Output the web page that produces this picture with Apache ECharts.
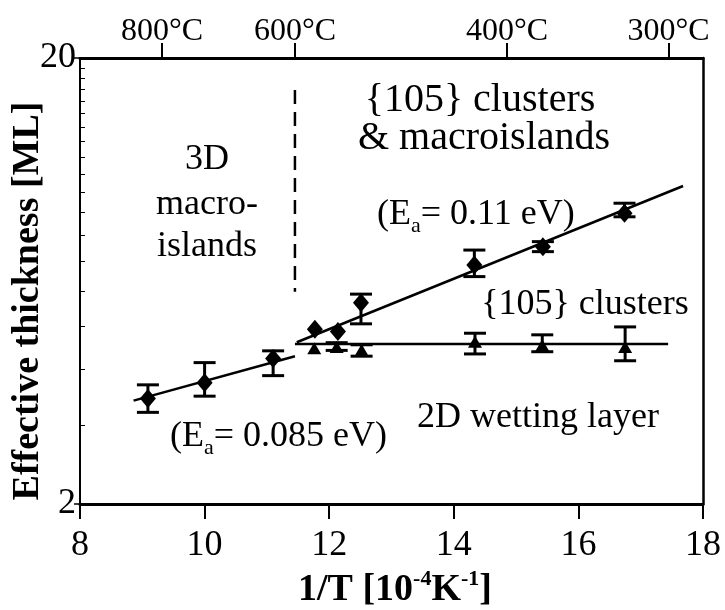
<!DOCTYPE html>
<html>
<head>
<meta charset="utf-8">
<script src="https://cdn.jsdelivr.net/npm/echarts@6/dist/echarts.min.js"></script>
<style>
  html, body { margin: 0; background: #fff; }
  #chart { width: 725px; height: 610px; }
</style>
</head>
<body>
<div id="chart"></div>
<script>
// diamonds: {105} clusters & macroislands
const diamondX = [9.09, 10.0, 11.10, 11.77, 12.14, 12.51, 14.33, 15.43, 16.74];
const diamondY = [3.45, 3.74, 4.24, 4.93, 4.87, 5.65, 6.87, 7.55, 8.97];
const diamondLo = [3.21, 3.49, 3.88, null, null, 5.07, 6.47, 7.36, 8.81];
const diamondHi = [3.70, 4.15, 4.41, null, null, 5.91, 7.42, 7.75, 9.45];

// triangles: 2D wetting layer
const triX = [11.76, 12.12, 12.52, 14.34, 15.42, 16.75];
const triY = [4.47, 4.50, 4.43, 4.62, 4.54, 4.50];
const triLo = [null, 4.42, 4.29, 4.34, 4.39, 4.19];
const triHi = [null, 4.60, 4.55, 4.83, 4.79, 4.99];

// fitted lines
const lowFitX = [8.86, 11.45];
const lowFitY = [3.41, 4.29];
const highFitX = [11.48, 17.68];
const highFitY = [4.61, 10.33];
const wetX = [11.45, 17.44];
const wetY = [4.57, 4.57];
const dashX = [11.45, 11.45];
const dashY = [16.95, 5.98];

// ticks
const xTicks = [8, 10, 12, 14, 16, 18];
const yTicks = [2, 20];
const yMinor = [3, 4, 5, 6, 7, 8, 9, 10, 11, 12, 13, 14, 15, 16, 17, 18, 19];
const tempLabels = [800, 600, 400, 300];
const tempPos = tempLabels.map(t => 1e4 / (t + 273.15));

const FONT = 'Liberation Serif';

let zip = (xs, ys) => xs.map((x, i) => [x, ys[i]]);
let bars = (xs, lo, hi) => xs.map((x, i) => [x, lo[i], hi[i]]).filter(d => d[1] != null);

let errorBar = (capW) => (params, api) => {
    let top = api.coord([api.value(0), api.value(2)]);
    let bot = api.coord([api.value(0), api.value(1)]);
    let st = { stroke: '#000', lineWidth: 3 };
    return {
        type: 'group',
        children: [
            { type: 'line', shape: { x1: top[0], y1: top[1], x2: bot[0], y2: bot[1] }, style: st },
            { type: 'line', shape: { x1: top[0] - capW / 2, y1: top[1], x2: top[0] + capW / 2, y2: top[1] }, style: st },
            { type: 'line', shape: { x1: bot[0] - capW / 2, y1: bot[1], x2: bot[0] + capW / 2, y2: bot[1] }, style: st }
        ]
    };
};

let lineSeries = (xs, ys, dashed) => ({
    type: 'line',
    data: zip(xs, ys),
    showSymbol: false,
    symbol: 'none',
    lineStyle: { color: '#000', width: 2.5, type: dashed ? [14, 8] : 'solid' },
    z: 3
});

let logY = extra => Object.assign({
    type: 'log', logBase: 10, min: 2, max: 20,
    splitLine: { show: false }
}, extra);

let txt = (x, y, text, size) => ({
    type: 'text', x: x, y: y,
    style: { text: text, font: size + 'px "Liberation Serif"', fill: '#000', align: 'center', verticalAlign: 'middle' }
});

let ea = (x, y, text) => ({
    type: 'text', x: x, y: y,
    style: {
        text: text, fontSize: 36, fontFamily: FONT, fill: '#000', lineHeight: 44,
        verticalAlign: 'middle',
        rich: { s: { fontSize: 22, fontFamily: FONT, lineHeight: 22, verticalAlign: 'bottom' } }
    }
});

let option = {
    animation: false,
    backgroundColor: '#fff',
    grid: { left: 80, right: 22, top: 58, bottom: 106 },
    xAxis: [
        {
            type: 'value', position: 'bottom', min: 8, max: 18,
            axisLine: { show: true, lineStyle: { color: '#000', width: 3 } },
            axisTick: { show: true, inside: false, length: 15, customValues: xTicks, lineStyle: { color: '#000', width: 2 } },
            axisLabel: { customValues: xTicks, margin: 24, color: '#000', fontSize: 36, fontFamily: FONT },
            splitLine: { show: false }
        },
        {
            type: 'value', position: 'top', min: 8, max: 18,
            axisLine: { show: true, lineStyle: { color: '#000', width: 3 } },
            axisTick: { show: true, inside: false, length: 15, customValues: tempPos, lineStyle: { color: '#000', width: 2 } },
            axisLabel: {
                customValues: tempPos, margin: 10, color: '#000', fontSize: 32, fontFamily: FONT,
                formatter: v => {
                    let best = 0;
                    tempPos.forEach((p, i) => { if (Math.abs(p - v) < Math.abs(tempPos[best] - v)) best = i; });
                    return tempLabels[best] + '°C';
                }
            },
            splitLine: { show: false }
        }
    ],
    yAxis: [
        logY({
            position: 'left',
            axisLine: { show: true, lineStyle: { color: '#000', width: 2 } },
            axisTick: { show: true, inside: false, length: 6, customValues: yTicks, lineStyle: { color: '#000', width: 1.5 } },
            axisLabel: { customValues: yTicks, margin: 4, color: '#000', fontSize: 36, fontFamily: FONT, formatter: v => String(Math.round(v)) }
        }),
        logY({
            position: 'left',
            axisLine: { show: false },
            axisTick: { show: true, inside: true, length: 5, customValues: yMinor, lineStyle: { color: '#000', width: 1 } },
            axisLabel: { show: false }
        }),
        logY({
            position: 'right',
            axisLine: { show: true, lineStyle: { color: '#000', width: 2.5 } },
            axisTick: { show: false },
            axisLabel: { show: false }
        })
    ],
    series: [
        lineSeries(lowFitX, lowFitY),
        lineSeries(highFitX, highFitY),
        lineSeries(wetX, wetY),
        lineSeries(dashX, dashY, true),
        {
            type: 'custom',
            renderItem: errorBar(22),
            data: bars(diamondX, diamondLo, diamondHi),
            z: 4
        },
        {
            type: 'custom',
            renderItem: errorBar(22),
            data: bars(triX, triLo, triHi),
            z: 4
        },
        {
            type: 'scatter',
            symbol: 'diamond',
            symbolSize: [16, 19],
            itemStyle: { color: '#000', opacity: 1 },
            data: zip(diamondX, diamondY),
            z: 5
        },
        {
            type: 'scatter',
            symbol: 'triangle',
            symbolSize: [14, 12],
            itemStyle: { color: '#000', opacity: 1 },
            data: zip(triX, triY),
            z: 5
        }
    ],
    graphic: [
        txt(207, 160, '3D', 36),
        txt(207, 205, 'macro-', 36),
        txt(207, 247, 'islands', 36),
        txt(480, 100, '{105} clusters', 40),
        txt(484, 138, '& macroislands', 40),
        txt(585, 305, '{105} clusters', 36),
        txt(538, 418, '2D wetting layer', 36),
        ea(377, 215, '(E{s|a}= 0.11 eV)'),
        ea(170, 437, '(E{s|a}= 0.085 eV)'),
        {
            type: 'text', x: 395, y: 590,
            style: {
                text: '1/T [10{p|-4}K{p|-1}]', fontSize: 38, fontWeight: 'bold', fontFamily: FONT, fill: '#000', lineHeight: 44,
                align: 'center', verticalAlign: 'middle',
                rich: { p: { fontSize: 22, fontWeight: 'bold', fontFamily: FONT, lineHeight: 22, verticalAlign: 'top' } }
            }
        },
        {
            type: 'text', x: 28, y: 301, rotation: Math.PI / 2,
            style: {
                text: 'Effective thickness [ML]', fontSize: 38, fontWeight: 'bold', fontFamily: FONT, fill: '#000',
                align: 'center', verticalAlign: 'middle'
            }
        }
    ]
};

let chart = echarts.init(document.getElementById('chart'), null, { renderer: 'canvas' });
chart.setOption(option);
</script>
</body>
</html>
